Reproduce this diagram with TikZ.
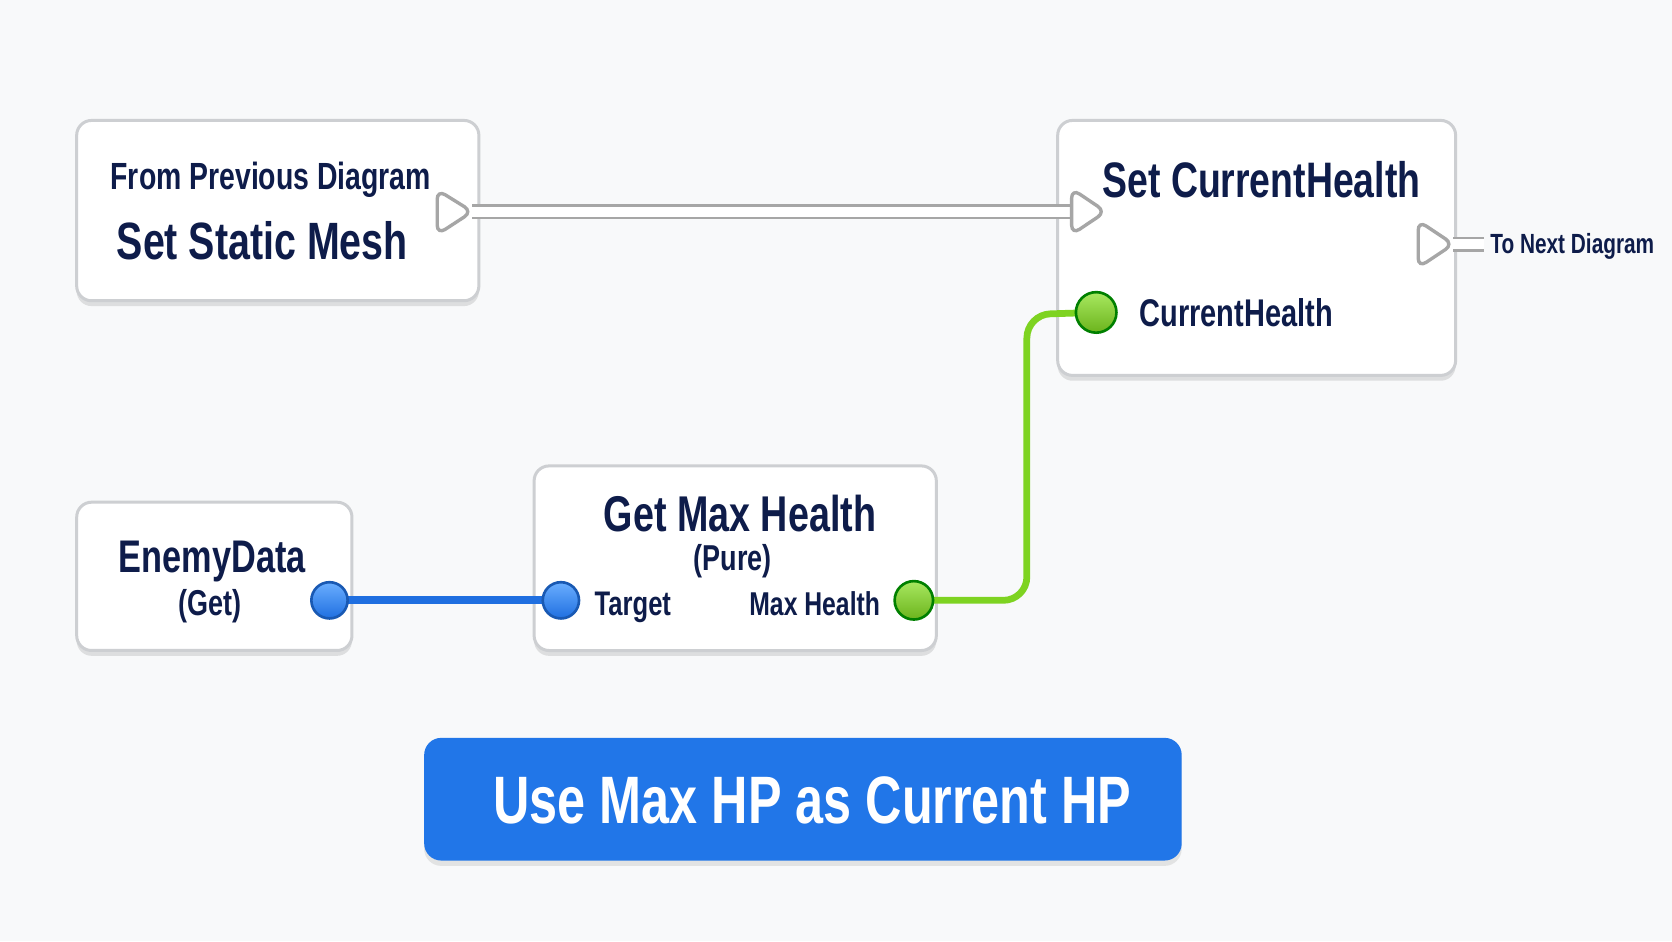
\documentclass[tikz,border=0pt]{standalone}
\usepackage{fontspec}
\setmainfont{Liberation Sans}[FakeStretch=0.75]
\usetikzlibrary{shadows,calc}
\definecolor{bg}{HTML}{F8F9FA}
\definecolor{navy}{HTML}{0E1C4A}
\definecolor{boxline}{HTML}{CDCFD2}
\definecolor{btn}{HTML}{2176E8}
\definecolor{bluewire}{HTML}{1F6FE0}
\definecolor{greenwire}{HTML}{7ED321}
\definecolor{bluetop}{HTML}{6AAEFF}
\definecolor{greentop}{HTML}{A8E860}
\tikzset{
  nodebox/.style={draw=boxline, line width=0.8pt, fill=white, rounded corners=0.14cm,
    drop shadow={shadow xshift=0cm, shadow yshift=-0.05cm, opacity=0.18, fill=black!60}},
  txt/.style={text=navy, font=\bfseries\fontsize{#1}{#1}\selectfont, inner sep=0pt,
    text depth=0pt},
  execpin/.style={draw=black!35, fill=white, line width=0.9pt, rounded corners=2.5pt},
  execwire/.style={draw=black!35, double=white, double distance=2.6pt, line width=0.7pt},
  bluepin/.style={circle, draw=bluewire!80!black, line width=0.7pt, minimum size=0.34cm, inner sep=0pt,
    top color=bluetop, bottom color=bluewire},
  greenpin/.style={circle, draw=green!50!black, line width=0.7pt, minimum size=0.36cm, inner sep=0pt,
    top color=greentop, bottom color=greenwire!85!black},
  bwire/.style={draw=bluewire, line width=2.2pt},
  gwire/.style={draw=greenwire, line width=1.8pt, rounded corners=0.22cm},
}
\begin{document}
\begin{tikzpicture}[x=0.01cm,y=-0.01cm]
\fill[bg] (0,0) rectangle (1568,882.5);
\useasboundingbox (0,0) rectangle (1568,882.5);

% boxes
\node[nodebox, minimum width=3.77cm, minimum height=1.69cm] (prev) at (260.5,197.5) {};
\node[nodebox, minimum width=3.73cm, minimum height=2.39cm] (setch) at (1178.5,232.5) {};
\node[nodebox, minimum width=2.58cm, minimum height=1.39cm] (enemy) at (201,540.5) {};
\node[nodebox, minimum width=3.77cm, minimum height=1.73cm] (getmax) at (689.5,523.5) {};

% texts
\node[txt=10.1] (prevt1) at (254,165) {From Previous Diagram};
\node[txt=14] (prevt2) at (246,226) {Set Static Mesh};
\node[txt=13.3] (setcht) at (1183,168) {Set CurrentHealth};
\node[txt=10.3, anchor=west] (chlab) at (1068,293) {CurrentHealth};
\node[txt=7.4, anchor=west] (nextt) at (1397,228) {To Next Diagram};
\node[txt=12.2] (enemyt) at (199,522) {EnemyData};
\node[txt=9.6] (gett) at (197,565) {(Get)};
\node[txt=13.4] (getmaxt) at (694,481) {Get Max Health};
\node[txt=9.6] (puret) at (687,523) {(Pure)};
\node[txt=9.1, anchor=west] (targt) at (557,566) {Target};
\node[txt=8.8, anchor=east] (mht) at (826,566) {Max Health};

% exec pins and wires
\coordinate (execout) at (443,198.5);
\coordinate (execin) at (1005,198.5);
\coordinate (nextout) at (1363,229);
\coordinate (nextend) at (1392,229);
\draw[execwire] (execout) -- (execin);
\draw[execwire] (nextout) -- (nextend);
\draw[execpin] (410,178) -- (execout) -- (410,220) -- cycle;
\draw[execpin] (1330,207) -- (nextout) -- (1330,251) -- cycle;
\draw[execpin] (1005,177) -- (1037,198.5) -- (1005,220) -- cycle;

% data pins
\coordinate (eout) at (309,563);
\coordinate (tin) at (526,563);
\coordinate (mhout) at (857,563);
\coordinate (chin) at (1028,293);
\draw[bwire] (eout) -- (tin);
\draw[gwire] (mhout) -- (963,563) -- (963,295) -- (chin);
\node[bluepin] (ep) at (eout) {};
\node[bluepin] (tp) at (tin) {};
\node[greenpin] (mp) at (mhout) {};
\node[greenpin, minimum size=0.38cm] (cp) at (chin) {};

% button
\node[fill=btn, rounded corners=0.16cm, minimum width=7.10cm, minimum height=1.15cm,
  drop shadow={shadow xshift=0cm, shadow yshift=-0.05cm, opacity=0.15, fill=black!60}] (btnnode) at (753,749.5) {};
\node[text=white, font=\bfseries\fontsize{17.9}{18}\selectfont, inner sep=0pt,
  text depth=0pt] (btntext) at (762,750) {Use Max HP as Current HP};
\end{tikzpicture}
\end{document}
